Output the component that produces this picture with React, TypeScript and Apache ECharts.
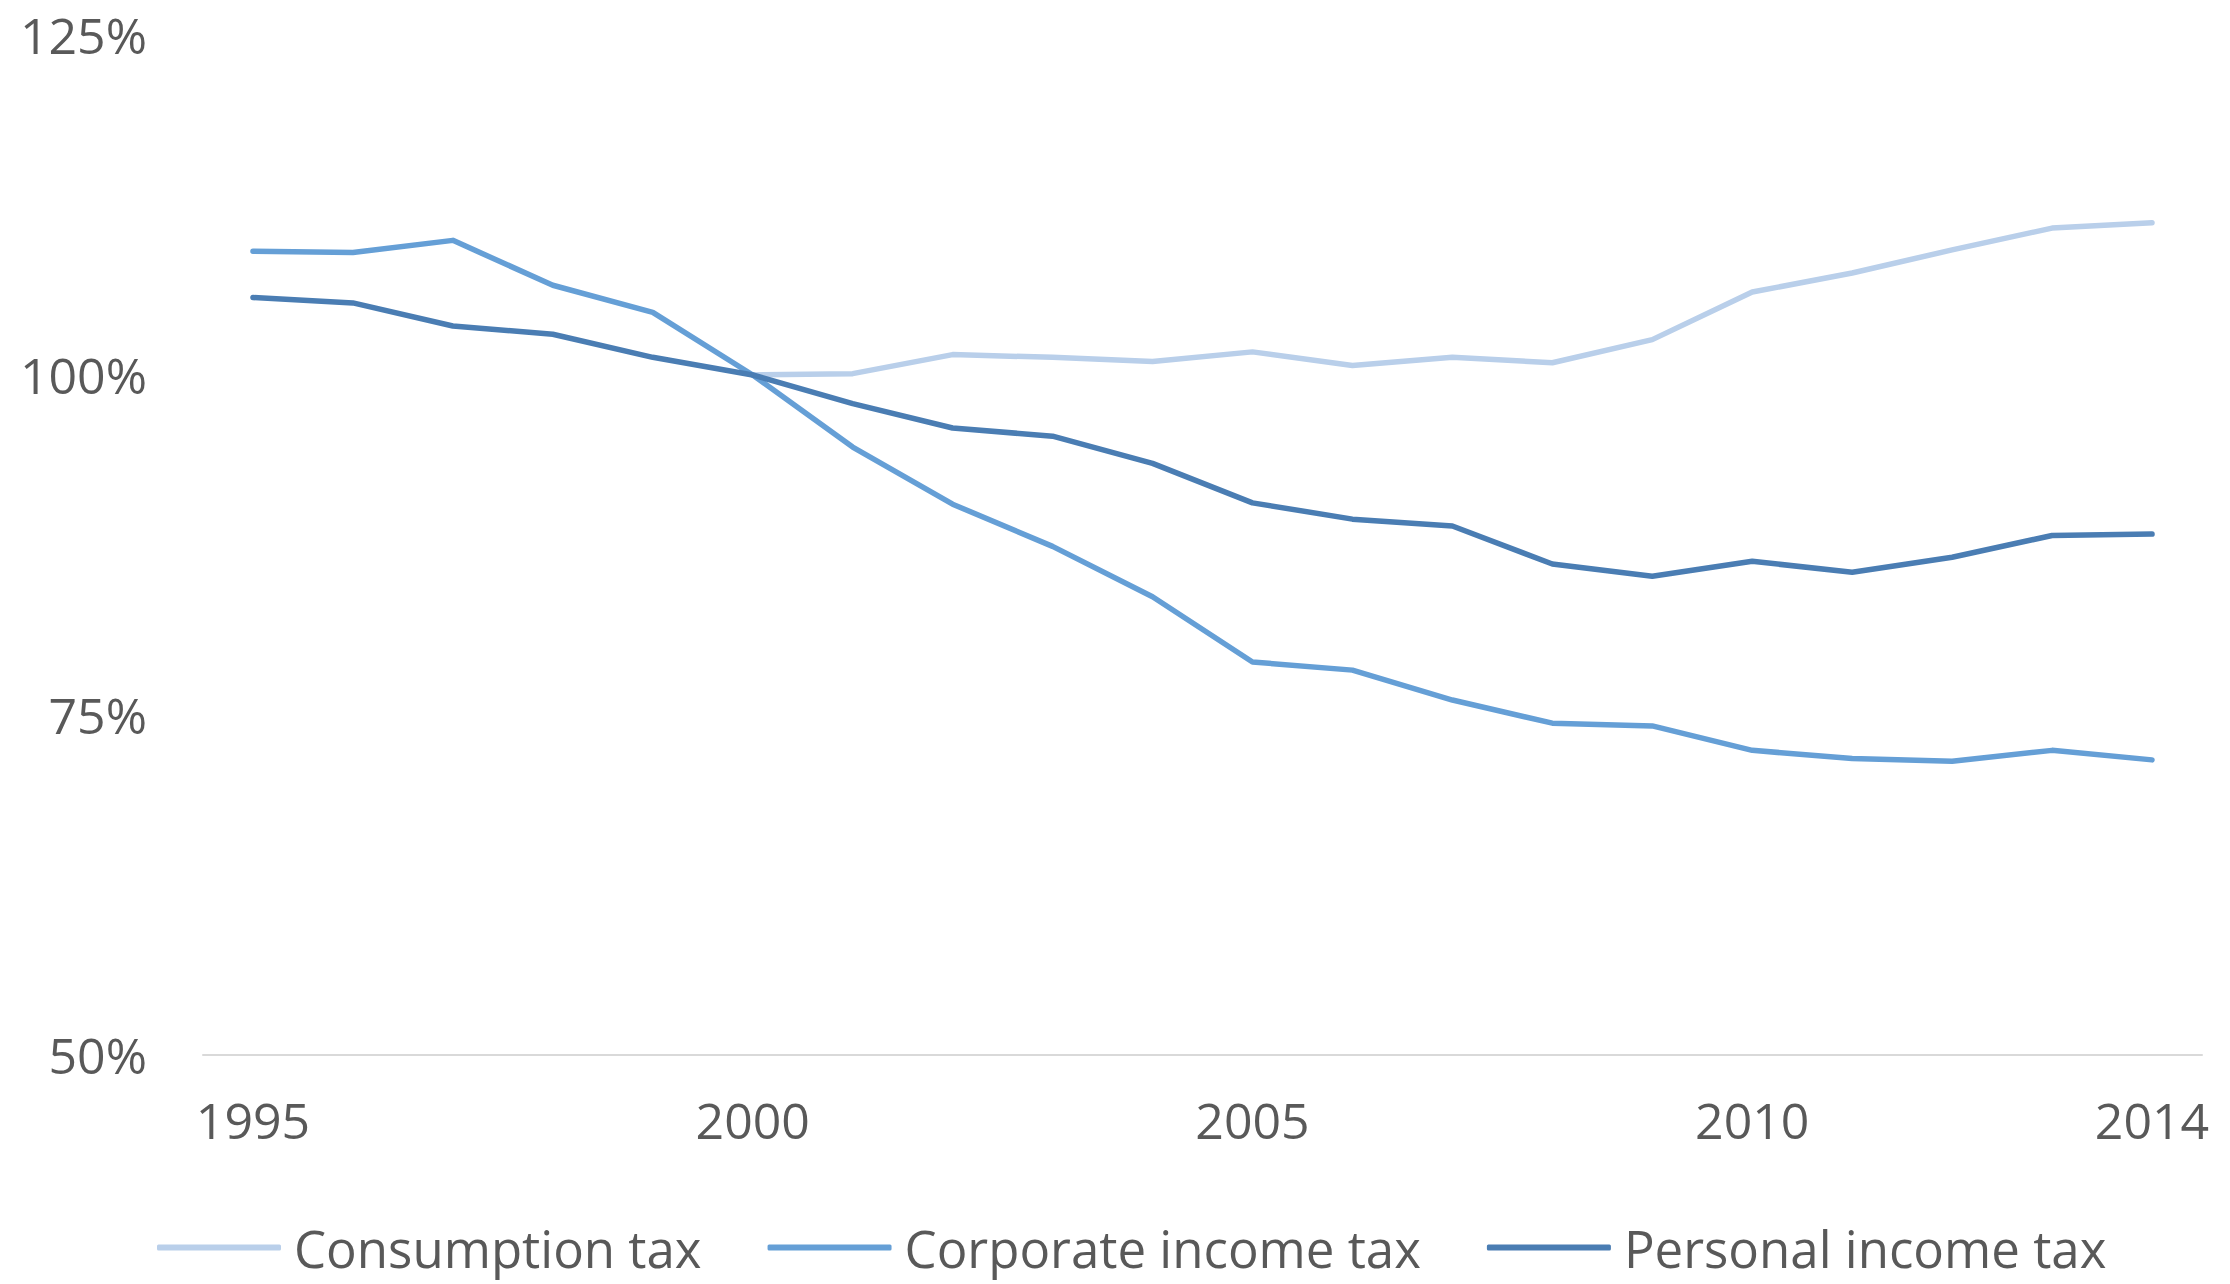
import React, { useEffect, useRef } from "react";
import * as echarts from "echarts";

// Years on the category axis
const years = [
  "1995", "1996", "1997", "1998", "1999", "2000", "2001", "2002", "2003", "2004",
  "2005", "2006", "2007", "2008", "2009", "2010", "2011", "2012", "2013", "2014",
];

// Revenue index, 2000 = 100%
const consumptionTax = [
  null, null, null, null, null, 100, 100.1, 101.5, 101.3, 101.0,
  101.7, 100.7, 101.3, 100.9, 102.6, 106.1, 107.5, 109.2, 110.8, 111.2,
];
const corporateIncomeTax = [
  109.1, 109.0, 109.9, 106.6, 104.6, 100, 94.7, 90.5, 87.4, 83.7,
  78.9, 78.3, 76.1, 74.4, 74.2, 72.4, 71.8, 71.6, 72.4, 71.7,
];
const personalIncomeTax = [
  105.7, 105.3, 103.6, 103.0, 101.3, 100, 97.9, 96.1, 95.5, 93.5,
  90.6, 89.4, 88.9, 86.1, 85.2, 86.3, 85.5, 86.6, 88.2, 88.3,
];

const seriesNames = ["Consumption tax", "Corporate income tax", "Personal income tax"];
const seriesColors = ["#b9cfea", "#659fd6", "#4a7db3"];
const yTicks = { min: 50, max: 125, interval: 25 };

const textColor = "#595959";
const fontFamily = "'Open Sans', 'Noto Sans', sans-serif";

export default function App() {
  const ref = useRef<HTMLDivElement>(null);

  useEffect(() => {
    document.body.style.margin = "0";
    if (!ref.current) return;
    const chart = echarts.init(ref.current, undefined, { renderer: "svg" });
    const values = [consumptionTax, corporateIncomeTax, personalIncomeTax];

    chart.setOption({
      animation: false,
      backgroundColor: "#ffffff",
      textStyle: { fontFamily },
      grid: { left: 203, right: 28, top: 35, bottom: 229 },
      legend: {
        left: 152,
        top: 1217,
        icon: "roundRect",
        itemWidth: 124,
        itemHeight: 6,
        itemGap: 66,
        textStyle: {
          color: textColor,
          fontSize: 51,
          fontFamily,
          padding: [0, 0, 0, 8],
        },
        data: seriesNames,
      },
      xAxis: {
        type: "category",
        data: years,
        boundaryGap: true,
        axisTick: { show: false },
        axisLine: { show: true, lineStyle: { color: "#d9d9d9", width: 2 } },
        axisLabel: {
          color: textColor,
          fontSize: 50,
          fontFamily,
          margin: 40,
          interval: (idx: number) => idx % 5 === 0 || idx === years.length - 1,
        },
        splitLine: { show: false },
      },
      yAxis: {
        type: "value",
        min: yTicks.min,
        max: yTicks.max,
        interval: yTicks.interval,
        axisLine: { show: false },
        axisTick: { show: false },
        splitLine: { show: false },
        axisLabel: {
          color: textColor,
          fontSize: 50,
          fontFamily,
          margin: 56,
          formatter: "{value}%",
        },
      },
      series: seriesNames.map((name, i) => ({
        name,
        type: "line",
        data: values[i],
        showSymbol: false,
        symbol: "none",
        color: seriesColors[i],
        lineStyle: { color: seriesColors[i], width: 5.5, cap: "round", join: "round" },
        itemStyle: { color: seriesColors[i] },
      })),
    });

    return () => chart.dispose();
  }, []);

  return <div ref={ref} style={{ width: 2230, height: 1284 }} />;
}
